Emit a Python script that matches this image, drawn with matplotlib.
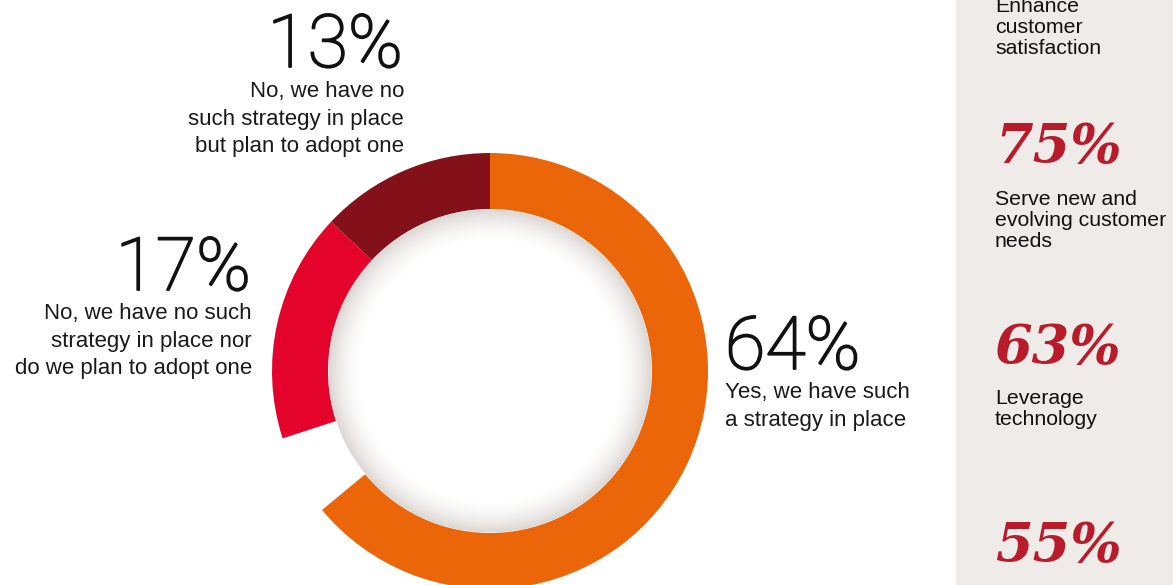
import numpy as np
import matplotlib.pyplot as plt
import matplotlib.patheffects as pe

# survey answers (share of respondents, %)
shares = [64, 17, 13]
pct_labels = ['64%', '17%', '13%']
answer_labels = ['Yes, we have such\na strategy in place',
                 'No, we have no such\nstrategy in place nor\ndo we plan to adopt one',
                 'No, we have no\nsuch strategy in place\nbut plan to adopt one']
colors = ['#eb6608', '#e4032b', '#84111a']

# side panel: reasons
side_pcts = ['75%', '63%', '55%']
side_labels = ['Enhance\ncustomer\nsatisfaction',
               'Serve new and\nevolving customer\nneeds',
               'Leverage\ntechnology']

W, H = 1173, 585
fig = plt.figure(figsize=(W / 100, H / 100), dpi=100)
ax = fig.add_axes([0, 0, 1, 1])

def py(y):
    # pixel row (from top) -> data y
    return H - y

# donut
cx, cy, R, ring = 490, py(371), 218, 56
gap = 100 - sum(shares)
vals = [shares[0], gap, shares[1], shares[2]]
cols = [colors[0], 'none', colors[1], colors[2]]
ax.pie(vals, colors=cols, startangle=90, counterclock=False,
       radius=R, center=(cx, cy),
       wedgeprops=dict(width=ring, linewidth=0, edgecolor='none'))

# soft inner shadow along the inner edge
ri = R - ring
n = 400
g = np.linspace(-ri, ri, n)
xx, yy = np.meshgrid(g, g)
rr = np.hypot(xx, yy)
alpha = np.clip((rr - (ri - 34)) / 34, 0, 1) ** 1.8 * 0.7
alpha[rr > ri] = 0
img = np.zeros((n, n, 4))
img[..., 0] = 0.80
img[..., 1] = 0.77
img[..., 2] = 0.75
img[..., 3] = alpha
ax.imshow(img, extent=[cx - ri, cx + ri, cy - ri, cy + ri], origin='lower',
          interpolation='bilinear', zorder=3)

# side panel background
ax.axvspan(956, W, color='#efebe8', zorder=0, lw=0)

ax.set_xlim(0, W)
ax.set_ylim(0, H)
ax.set_aspect('auto')
ax.axis('off')

big = dict(fontsize=53, family=['Roboto', 'DejaVu Sans'], fontweight='light',
           color='#111111', va='baseline',
           path_effects=[pe.withStroke(linewidth=1.3, foreground='#111111')])
small = dict(fontsize=16, family=['Liberation Sans', 'DejaVu Sans'],
             color='#1a1a1a', va='baseline')

# answer annotations: (x, anchor, pct baseline, first label baseline)
placements = [(725, 'left', 369, 398),
              (251, 'right', 290, 319),
              (403, 'right', 67, 97)]
for (x, ha, yb, yl), pct, lab in zip(placements, pct_labels, answer_labels):
    ax.text(x, py(yb), pct, ha=ha, **big)
    lx = x if ha == 'left' else x + 1
    for i, line in enumerate(lab.split('\n')):
        ax.text(lx, py(yl + i * 27.7), line, ha=ha, **small)

# side panel texts
sx = 995
side_txt = dict(fontsize=15.3, family=['Liberation Sans', 'DejaVu Sans'],
                color='#111111', va='baseline', ha='left')
side_num = dict(fontsize=39, family=['DejaVu Serif'],
                fontweight='bold', fontstyle='italic', color='#b81c2b',
                va='baseline', ha='left')
label_base = [12, 205, 404]
pct_base = [163, 364, 562]
for yb, lab in zip(label_base, side_labels):
    for i, line in enumerate(lab.split('\n')):
        ax.text(sx, py(yb + i * 21), line, **side_txt)
for yb, pct in zip(pct_base, side_pcts):
    ax.text(sx, py(yb), pct, **side_num)

fig.savefig('out.png', dpi=100)
